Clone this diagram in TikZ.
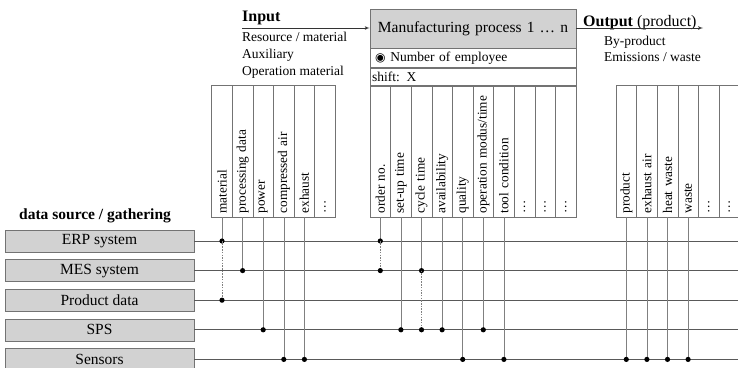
\documentclass[tikz,border=0pt]{standalone}
\usepackage{fontspec}
\setmainfont{Liberation Serif}
\newfontfamily\symfont{DejaVu Sans}
\usetikzlibrary{shapes,arrows,positioning,calc}
\tikzset{
    srcbox/.style={rectangle, draw=black!55, fill=gray!35, minimum width=189pt, minimum height=22pt, inner sep=0pt, font=\fontsize{15.5}{18}\selectfont, line width=0.6pt},
    procbox/.style={rectangle, draw=black!55, minimum width=206pt, text width=202pt, inner xsep=2pt, inner ysep=0pt, align=left, line width=0.6pt},
    colbox/.style={rectangle, draw=black!55, rotate=90, minimum width=132pt, minimum height=20.6pt, text width=125pt, inner xsep=3.5pt, inner ysep=0pt, align=left, font=\fontsize{13.3}{15}\selectfont, line width=0.6pt},
    note/.style={inner sep=0pt, align=left},
    bus/.style={draw=black!65, line width=0.7pt},
    tap/.style={draw=black!50, line width=0.6pt},
    link/.style={draw=black!50, dashed, dash pattern=on 1.5pt off 1.2pt, line width=0.5pt},
    dot/.style={circle, fill=black, inner sep=0pt, minimum size=5.2pt},
    line/.style={draw=black!80, -latex', line width=0.7pt}
}

\begin{document}
\begin{tikzpicture}[x=1pt, y=-1pt, font=\fontsize{13.5}{17}\selectfont]
    \useasboundingbox (0,0) rectangle (738,367);
    \coordinate (edge) at (738,0);

    \node [procbox, fill=gray!35, minimum height=39pt, align=center, font=\fontsize{15.5}{18}\selectfont] (process) at (473,28.5) {Manufacturing process 1 … n};
    \node [procbox, minimum height=19pt, below=0pt of process] (staff) {\hspace{3pt}{\symfont\fontsize{12}{12}\selectfont ◉}\hspace{5pt}Number of employee};
    \node [procbox, minimum height=18pt, below=0pt of staff] (shift) {shift: X};

    \node [note, anchor=base west, font=\fontsize{16}{18}\selectfont\bfseries] (input) at (242,21.7) {Input};
    \node [note, anchor=north west, text depth=0pt] (inputs) at (242,32) {Resource / material\\Auxiliary\\Operation material};
    \coordinate (instart) at (242,28);
    \node [note, anchor=base west, font=\fontsize{16}{18}\selectfont] (output) at (583,26) {\textbf{Output} (product)};
    \node [note, anchor=north west, font=\fontsize{13.5}{16}\selectfont] (outputs) at (604,35.5) {By-product\\Emissions / waste};
    \coordinate (outend) at (703,28);

    \path [line] (instart) -- (instart -| process.west);
    \path [line] (process.east |- outend) -- (outend);

    \node [colbox] (material) at (222,151) {material};
    \node [colbox] (procdata) at (242.6,151) {processing data};
    \node [colbox] (power) at (263.2,151) {power};
    \node [colbox] (air) at (283.8,151) {compressed air};
    \node [colbox] (exhaust) at (304.4,151) {exhaust};
    \node [colbox] (inmore) at (325,151) {…};

    \node [colbox] (order) at (380.3,151) {order no.};
    \node [colbox] (setup) at (400.9,151) {set-up time};
    \node [colbox] (cycle) at (421.5,151) {cycle time};
    \node [colbox] (avail) at (442.1,151) {availability};
    \node [colbox] (quality) at (462.7,151) {quality};
    \node [colbox] (modus) at (483.3,151) {operation modus/time};
    \node [colbox] (tool) at (503.9,151) {tool condition};
    \node [colbox] (more1) at (524.5,151) {…};
    \node [colbox] (more2) at (545.1,151) {…};
    \node [colbox] (more3) at (565.7,151) {…};

    \node [colbox] (product) at (626.3,151) {product};
    \node [colbox] (exhaustair) at (646.9,151) {exhaust air};
    \node [colbox] (heat) at (667.5,151) {heat waste};
    \node [colbox] (waste) at (688.1,151) {waste};
    \node [colbox] (outmore1) at (708.7,151) {…};
    \node [colbox] (outmore2) at (729.3,151) {…};

    \node [note, anchor=west, font=\fontsize{15.5}{18}\selectfont\bfseries] (gather) at (19,216) {data source / gathering};
    \node [srcbox] (erp) at (99.5,241) {ERP system};
    \node [srcbox, below=7pt of erp] (mes) {MES system};
    \node [srcbox, below=7pt of mes] (pdata) {Product data};
    \node [srcbox, below=7pt of pdata] (sps) {SPS};
    \node [srcbox, below=7pt of sps] (sensors) {Sensors};

    \path [bus] (erp.east) -- (erp.east -| edge);
    \path [bus] (mes.east) -- (mes.east -| edge);
    \path [bus] (pdata.east) -- (pdata.east -| edge);
    \path [bus] (sps.east) -- (sps.east -| edge);
    \path [bus] (sensors.east) -- (sensors.east -| edge);

    \path [tap] (material.west) -- (material |- erp) node [dot] {};
    \path [link] (material |- erp) -- (material |- pdata) node [dot] {};
    \path [tap] (procdata.west) -- (procdata |- mes) node [dot] {};
    \path [tap] (power.west) -- (power |- sps) node [dot] {};
    \path [tap] (air.west) -- (air |- sensors) node [dot] {};
    \path [tap] (exhaust.west) -- (exhaust |- sensors) node [dot] {};

    \path [tap] (order.west) -- (order |- erp) node [dot] {};
    \path [link] (order |- erp) -- (order |- mes) node [dot] {};
    \path [tap] (setup.west) -- (setup |- sps) node [dot] {};
    \path [tap] (cycle.west) -- (cycle |- mes) node [dot] {};
    \path [link] (cycle |- mes) -- (cycle |- sps) node [dot] {};
    \path [tap] (avail.west) -- (avail |- sps) node [dot] {};
    \path [tap] (quality.west) -- (quality |- sensors) node [dot] {};
    \path [tap] (modus.west) -- (modus |- sps) node [dot] {};
    \path [tap] (tool.west) -- (tool |- sensors) node [dot] {};

    \path [tap] (product.west) -- (product |- sensors) node [dot] {};
    \path [tap] (exhaustair.west) -- (exhaustair |- sensors) node [dot] {};
    \path [tap] (heat.west) -- (heat |- sensors) node [dot] {};
    \path [tap] (waste.west) -- (waste |- sensors) node [dot] {};
\end{tikzpicture}
\end{document}
